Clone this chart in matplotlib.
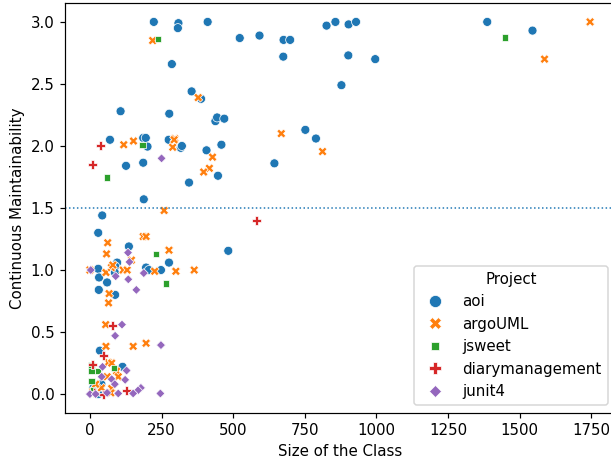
import numpy as np
import pandas as pd
import matplotlib
matplotlib.use("Agg")
import matplotlib.pyplot as plt
import seaborn as sns

projects = ["aoi", "argoUML", "jsweet", "diarymanagement", "junit4"]

aoi_size = [223, 309, 307, 411, 523, 592, 676, 699, 675, 286, 355, 388, 107, 277,
            438, 444, 469, 70, 186, 195, 201, 275, 317, 321, 126, 186, 407, 459,
            346, 447, 644, 752, 789, 188, 43, 29, 826, 857, 903, 929, 902, 996,
            878, 1387, 1545, 483, 136, 276, 92, 95, 88, 29, 87, 32, 60, 31, 88,
            196, 206, 248, 35, 114, 29, 12, 40]
aoi_cm = [3.0, 2.99, 2.95, 3.0, 2.87, 2.89, 2.855, 2.855, 2.72, 2.66, 2.44, 2.38, 2.28, 2.26,
          2.20, 2.23, 2.22, 2.05, 2.065, 2.065, 1.995, 2.05, 1.985, 2.0, 1.84, 1.865, 1.965, 2.01,
          1.705, 1.76, 1.86, 2.13, 2.06, 1.57, 1.44, 1.30, 2.97, 3.0, 2.98, 3.0, 2.73, 2.70,
          2.49, 3.0, 2.93, 1.155, 1.19, 1.06, 1.05, 1.06, 1.03, 1.01, 0.98, 0.94, 0.90, 0.84, 0.80,
          1.02, 1.0, 1.0, 0.35, 0.22, 0.0, 0.05, 0.08]

argo_size = [219, 378, 296, 289, 118, 152, 294, 428, 417, 397, 259, 668, 812, 1587, 1746,
             62, 58, 186, 196, 276, 145, 0, 56, 116, 130, 226, 300, 364, 67, 65, 75, 80,
             55, 56, 151, 196, 64, 76, 93, 60, 99, 76, 73, 40, 20, 10]
argo_cm = [2.85, 2.39, 2.06, 1.99, 2.01, 2.04, 2.05, 1.91, 1.82, 1.79, 1.48, 2.10, 1.955, 2.70, 3.0,
           1.22, 1.13, 1.27, 1.27, 1.16, 1.08, 1.0, 0.98, 1.0, 1.0, 0.99, 0.99, 1.0, 0.81, 0.735, 1.02, 1.04,
           0.56, 0.385, 0.385, 0.41, 0.255, 0.25, 0.185, 0.14, 0.14, 0.045, 0.01, 0.05, 0.08, 0.02]

jsweet_size = [237, 184, 60, 1449, 230, 265, 6, 6, 29, 83, 6, 10]
jsweet_cm = [2.86, 2.01, 1.745, 2.875, 1.13, 0.89, 0.23, 0.185, 0.185, 0.21, 0.105, 0.03]

diary_size = [38, 10, 582, 78, 46, 9, 128, 49, 15]
diary_cm = [2.0, 1.85, 1.40, 0.55, 0.31, 0.24, 0.03, 0.0, 0.01]

junit_size = [250, 3, 133, 138, 90, 134, 162, 188, 112, 88, 248, 246, 44, 128, 41, 76,
              123, 87, 178, 168, 151, 99, 0, 20, 60]
junit_cm = [1.90, 1.0, 1.14, 1.065, 0.95, 0.925, 0.84, 0.975, 0.56, 0.47, 0.395, 0.005, 0.22, 0.19, 0.14, 0.12,
            0.115, 0.08, 0.05, 0.03, 0.005, 0.005, 0.0, 0.0, 0.01]

sizes = [aoi_size, argo_size, jsweet_size, diary_size, junit_size]
cms = [aoi_cm, argo_cm, jsweet_cm, diary_cm, junit_cm]
rows = []
for p, xs, ys in zip(projects, sizes, cms):
    for a, b in zip(xs, ys):
        rows.append((p, a, b))
df = pd.DataFrame(rows, columns=["Project", "Size of the Class", "Continuous Maintainability"])

dpi = 108
fig = plt.figure(figsize=(611/dpi, 463/dpi), dpi=dpi)
ax = fig.add_axes([65/611, 1 - 412.7/463, 550/611, (412.7 - 3.3)/463])
sns.scatterplot(data=df, x="Size of the Class", y="Continuous Maintainability",
                hue="Project", style="Project", hue_order=projects, style_order=projects, ax=ax)
ax.axhline(1.5, linestyle=":", linewidth=1)
ax.set_xlim(-87, 1833)
ax.set_ylim(-0.15, 3.15)
ax.legend(title="Project", loc="lower right", markerscale=1.35)
fig.savefig("out.png", dpi=dpi)
